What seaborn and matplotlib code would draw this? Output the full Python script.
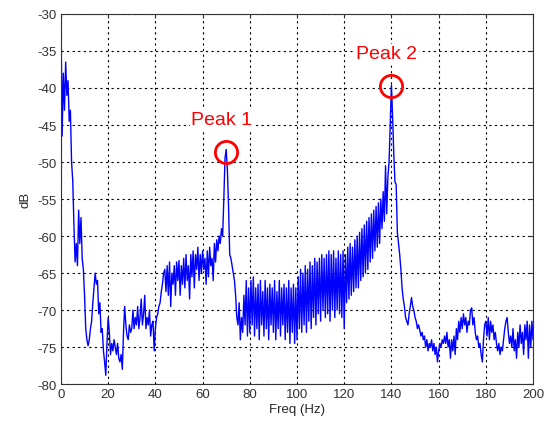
import numpy as np
import matplotlib
matplotlib.use("Agg")
import matplotlib.pyplot as plt
import seaborn as sns

# spectrum, 0.5 Hz steps from 0 to 200 Hz
freq_step = 0.5
db_values = [
    -30, -46.5, -38, -43, -36.5, -41, -39, -44.5, -43, -50, -52.5, -58.5, -63.5, -61, -64, -56.5, -61, -57.5, -63, -64.5,
    -68, -72.5, -74, -74.8, -74, -72.5, -71.5, -69, -67, -65, -66.5, -66, -70.5, -69, -73, -72.5, -75.5, -77, -78.8, -74.5,
    -71, -73, -76, -74.5, -75.5, -74, -75, -76, -74.5, -76.5, -77, -76, -78, -73, -69.5, -72, -73.5, -74, -72, -73,
    -72.5, -70, -72.5, -71, -72, -69.5, -72.5, -71, -68.5, -72, -70.5, -68, -72.5, -71, -72, -70, -73.5, -72, -71.5, -75.5,
    -72.5, -71, -70.5, -69.5, -69, -67.5, -66.5, -65, -64.5, -67.5, -64, -68, -63.5, -69.5, -65, -66.5, -64, -68, -63.5, -66,
    -63.3, -68, -64, -66.5, -63, -67, -62.5, -66, -64, -68.5, -62.5, -65.5, -62, -67, -62.5, -64.5, -61.5, -66, -62.5, -65,
    -62, -64.5, -63, -66.5, -62, -65.5, -61.5, -64, -63, -66, -61, -63.5, -60.5, -62, -60, -61, -59, -60, -55, -49.5,
    -48.3, -51, -56, -62.5, -63, -64, -65, -66, -68, -71, -72, -69, -74, -71, -73, -68, -72, -66, -73.5, -67,
    -73, -66, -72, -65.5, -73.5, -67, -72.5, -66.5, -74, -66, -72, -67.5, -73.5, -66, -72.5, -67, -74, -66.5, -72, -67,
    -73, -66, -74, -67.5, -72.5, -66, -73.5, -67, -72, -66.5, -74, -67, -73, -66, -74.5, -67, -73, -66.5, -74.5, -67,
    -74, -65.5, -72.5, -64.5, -73, -65, -72, -64, -73, -64.5, -71.5, -63.5, -72.5, -64, -71, -63, -72, -63.5, -70.5, -63,
    -71.5, -62.5, -70, -63, -71, -62.5, -70.5, -62, -71.5, -62.5, -70, -62, -71, -63, -70, -62, -70.5, -62.5, -71, -62,
    -72.5, -62.5, -69, -61.5, -68.5, -61, -68, -61.5, -67.5, -60.5, -67, -60, -67, -59.5, -66, -59, -65.5, -58.5, -65, -58,
    -64.5, -57.5, -63.5, -57, -63, -56.5, -62, -56, -61.5, -55.5, -61, -55, -59, -54, -58, -50.5, -57, -52, -50, -45,
    -39.6, -44, -49, -52.7, -53, -59.5, -61, -62.5, -64.5, -67, -68.5, -69.5, -71, -71.5, -72, -70.5, -69.5, -68.3, -69.5, -70,
    -71, -71.5, -72.5, -72, -72.7, -73.5, -73, -74, -73.5, -75, -74, -75.5, -74.5, -75, -74, -75.5, -74.5, -76, -75, -77,
    -75.5, -74.5, -75, -74, -74.5, -73.5, -74.5, -73, -75, -74, -76.5, -74, -75.5, -73.5, -76, -72.5, -74, -71.5, -73, -71,
    -72.5, -70.5, -72, -71, -73, -71.5, -72, -70, -69.7, -72, -71, -73, -74, -73.5, -75, -74.5, -76, -77, -74, -72,
    -71.5, -73.5, -71, -74, -71.5, -73, -72, -74, -73, -74.5, -75.5, -74.5, -76, -75, -75.5, -74, -72.5, -71.5, -71, -73,
    -74.5, -73.5, -75, -72.5, -75.5, -74, -76.5, -73, -75, -72, -74.5, -73, -76, -72, -74, -71.5, -76.5, -72, -75, -71.5,
    -74,
]
freq = np.arange(len(db_values)) * freq_step

peak_labels = ["Peak 1", "Peak 2"]
peak_freq = [69.9, 139.8]
peak_db = [-48.6, -39.7]
label_freq = [68.2, 138.0]
label_db = [-44.2, -35.4]

x_ticks = list(range(0, 201, 20))
y_ticks = list(range(-80, -29, 5))

sns.set_style("white")
plt.rcParams['font.family'] = ['Liberation Sans', 'DejaVu Sans']
plt.rcParams['axes.unicode_minus'] = False

fig = plt.figure(figsize=(5.49, 4.27), dpi=100)
ax = fig.add_axes([0.111, 0.098, 0.860, 0.867])

sns.lineplot(x=freq, y=db_values, ax=ax, color='#0000ff', linewidth=1.0)

# red circles + labels on the two peaks
ax.plot(peak_freq, peak_db, 'o', ms=16, mfc='none', mec='#ff0000', mew=2)
for lab, xf, yd in zip(peak_labels, label_freq, label_db):
    ax.text(xf, yd, lab, color='#ff0000', fontsize=14, ha='center', va='center',
            bbox=dict(facecolor='white', edgecolor='none', pad=1))

ax.set_xlim(0, 200)
ax.set_ylim(-80, -30)
ax.set_xticks(x_ticks)
ax.set_yticks(y_ticks)
ax.grid(True, color='black', linestyle=(0, (2, 3)), linewidth=0.8)
ax.tick_params(direction='in', length=3, labelsize=9.5, top=True, right=True,
               colors='#333333', pad=3)
for sp in ax.spines.values():
    sp.set_color('#333333')
    sp.set_linewidth(0.8)
ax.set_xlabel('Freq (Hz)', fontsize=9.5, labelpad=2)
ax.set_ylabel('dB', fontsize=9.5, labelpad=4)

fig.savefig('out.png', dpi=100)
